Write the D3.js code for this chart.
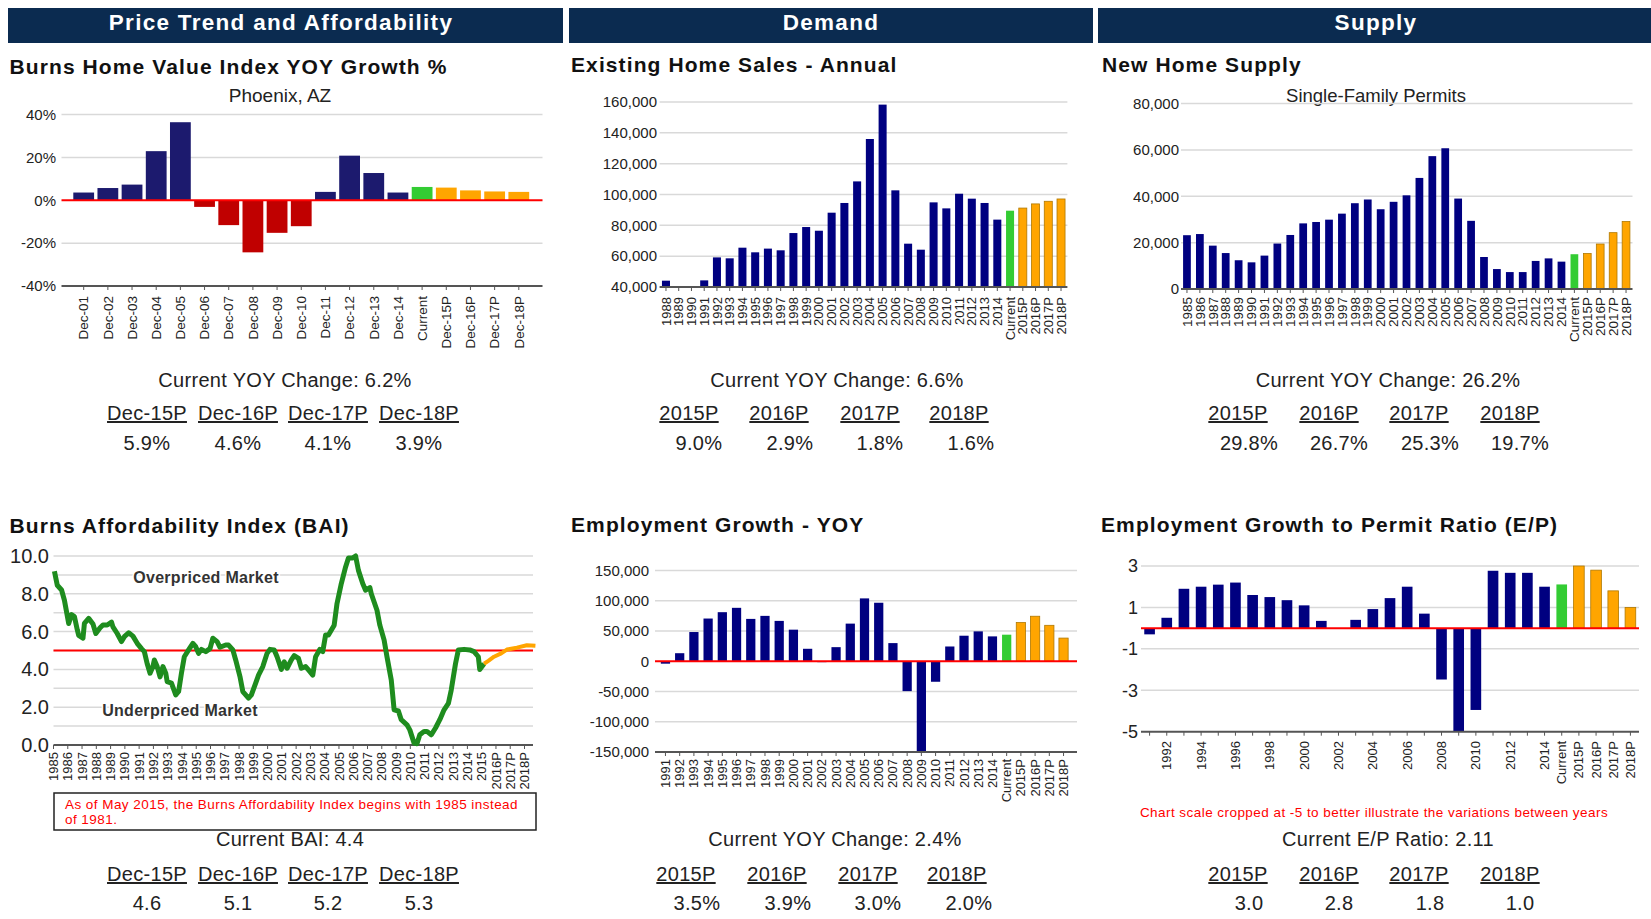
<!DOCTYPE html>
<html>
<head>
<meta charset="utf-8">
<script src="https://cdn.jsdelivr.net/npm/d3@7"></script>
<style>
  body { margin: 0; background: #fff; }
  svg { font-family: Arial, "Liberation Sans", sans-serif; }
</style>
</head>
<body>
<div id="wrapper"></div>
<script>
// ---- data ----
const headers = ["Price Trend and Affordability", "Demand", "Supply"]

const hviLabels = ["Dec-01", "Dec-02", "Dec-03", "Dec-04", "Dec-05", "Dec-06", "Dec-07", "Dec-08", "Dec-09",
  "Dec-10", "Dec-11", "Dec-12", "Dec-13", "Dec-14", "Current", "Dec-15P", "Dec-16P", "Dec-17P", "Dec-18P"]
const hviValues = [3.6, 5.7, 7.3, 22.9, 36.4, -3.1, -11.6, -24.3, -15.2, -12.1, 3.9, 20.8, 12.7, 3.6, 6.2, 5.9, 4.6, 4.1, 3.9]

const salesLabels = ["1988", "1989", "1990", "1991", "1992", "1993", "1994", "1995", "1996", "1997", "1998", "1999",
  "2000", "2001", "2002", "2003", "2004", "2005", "2006", "2007", "2008", "2009", "2010", "2011", "2012", "2013",
  "2014", "Current", "2015P", "2016P", "2017P", "2018P"]
const salesValues = [44100, 40400, 40400, 44300, 59200, 58600, 65500, 62500, 64900, 63800, 75000, 78900,
  76500, 88200, 94500, 108500, 136000, 158300, 102700, 68100, 64200, 94900, 91000, 100500, 97300, 94500,
  83700, 89500, 91200, 93900, 95600, 97100]

const permitLabels = ["1985", "1986", "1987", "1988", "1989", "1990", "1991", "1992", "1993", "1994", "1995",
  "1996", "1997", "1998", "1999", "2000", "2001", "2002", "2003", "2004", "2005", "2006", "2007", "2008", "2009",
  "2010", "2011", "2012", "2013", "2014", "Current", "2015P", "2016P", "2017P", "2018P"]
const permitValues = [23200, 23700, 18700, 15500, 12400, 11500, 14400, 19600, 23300, 28300, 28900,
  29900, 32500, 37000, 38600, 34400, 37600, 40400, 47900, 57300, 60700, 39000, 29400, 13800, 8600,
  7300, 7300, 12100, 13200, 11800, 15000, 15300, 19400, 24300, 29100]

const baiTickLabels = ["1985", "1986", "1987", "1988", "1989", "1990", "1991", "1992", "1993", "1994", "1995",
  "1996", "1997", "1998", "1999", "2000", "2001", "2002", "2003", "2004", "2005", "2006", "2007", "2008", "2009",
  "2010", "2011", "2012", "2013", "2014", "2015", "2016P", "2017P", "2018P"]
const baiDates = [1985.1, 1985.3, 1985.6, 1985.8, 1986.1, 1986.3, 1986.5, 1986.7, 1986.8, 1987.1, 1987.2, 1987.5,
  1987.8, 1988.0, 1988.3, 1988.5, 1988.8, 1989.1, 1989.2, 1989.5, 1989.8, 1990.0, 1990.3, 1990.6, 1990.9, 1991.2,
  1991.4, 1991.6, 1991.8, 1992.0, 1992.1, 1992.3, 1992.5, 1992.7, 1992.9, 1993.0, 1993.3, 1993.6, 1993.8, 1994.0,
  1994.2, 1994.5, 1994.8, 1995.0, 1995.2, 1995.4, 1995.7, 1996.0, 1996.2, 1996.5, 1996.7, 1997.1, 1997.3, 1997.6,
  1997.8, 1998.1, 1998.3, 1998.7, 1998.9, 1999.2, 1999.4, 1999.7, 2000.0, 2000.2, 2000.5, 2000.7, 2001.0, 2001.2,
  2001.4, 2001.7, 2001.9, 2002.2, 2002.4, 2002.7, 2002.9, 2003.2, 2003.4, 2003.7, 2003.9, 2004.1, 2004.3, 2004.7,
  2004.9, 2005.2, 2005.5, 2005.7, 2006.0, 2006.2, 2006.4, 2006.7, 2006.9, 2007.2, 2007.3, 2007.7, 2007.9, 2008.2,
  2008.4, 2008.7, 2008.9, 2009.2, 2009.4, 2009.8, 2010.0, 2010.3, 2010.5, 2010.7, 2011.0, 2011.2, 2011.5, 2011.8,
  2012.1, 2012.4, 2012.7, 2012.9, 2013.2, 2013.4, 2013.8, 2014.2, 2014.5, 2014.8, 2014.9, 2015.2]
const baiValues = [9.19, 8.45, 8.2, 7.66, 6.43, 6.9, 6.8, 6.1, 5.8, 5.65, 6.43, 6.7,
  6.4, 5.9, 6.2, 6.35, 6.35, 6.5, 6.25, 5.9, 5.47, 5.73, 5.94, 5.76, 5.38, 5.1,
  4.94, 4.3, 3.8, 4.15, 4.5, 4.15, 3.6, 4.15, 3.8, 3.35, 3.27, 2.65, 2.83, 3.8,
  4.67, 5.03, 5.38, 5.2, 4.85, 5.06, 4.94, 5.1, 5.65, 5.47, 5.17, 5.29, 5.29, 5.03,
  4.5, 3.62, 2.83, 2.48, 2.65, 3.27, 3.7, 4.15, 4.85, 5.06, 5.03, 4.67, 4.0, 4.4,
  4.06, 4.5, 4.73, 4.58, 4.06, 4.15, 3.97, 3.7, 4.67, 5.06, 4.94, 5.82, 5.82, 6.34,
  7.49, 8.54, 9.42, 9.9, 9.9, 10.0, 9.24, 8.54, 8.19, 8.33, 8.0, 7.13, 6.34, 5.55,
  4.67, 3.44, 1.86, 1.8, 1.34, 1.07, 0.8, 0.1, 0.07, 0.54, 0.72, 0.72, 0.54, 0.9,
  1.34, 1.86, 2.2, 2.9, 4.3, 5.03, 5.06, 5.03, 4.94, 4.67, 4.0, 4.3]
const baiProjDates = [2015.2, 2015.5, 2015.9, 2016.4, 2016.8, 2017.5, 2018.2, 2018.8]
const baiProjValues = [4.3, 4.45, 4.67, 4.85, 5.05, 5.15, 5.28, 5.25]

const empLabels = ["1991", "1992", "1993", "1994", "1995", "1996", "1997", "1998", "1999", "2000", "2001",
  "2002", "2003", "2004", "2005", "2006", "2007", "2008", "2009", "2010", "2011", "2012", "2013", "2014",
  "Current", "2015P", "2016P", "2017P", "2018P"]
const empValues = [-4000, 13300, 48300, 70600, 81100, 88300, 70000, 75000, 66700, 52200, 20600,
  -1500, 23300, 62200, 103900, 96700, 30000, -49400, -150000, -33900, 24400, 42200, 49400, 41100,
  43900, 63900, 74400, 59400, 38300]

const epLabels = empLabels
const epValues = [-0.3, 0.5, 1.9, 2.0, 2.1, 2.2, 1.6, 1.5, 1.35, 1.1, 0.35,
  0, 0.4, 0.92, 1.45, 2.0, 0.7, -2.48, -5.0, -3.95, 2.77, 2.67, 2.67, 2.0,
  2.11, 3.0, 2.8, 1.8, 1.0]

const decHeads = ["Dec-15P", "Dec-16P", "Dec-17P", "Dec-18P"]
const yearHeads = ["2015P", "2016P", "2017P", "2018P"]
const hviStatValues = ["5.9%", "4.6%", "4.1%", "3.9%"]
const salesStatValues = ["9.0%", "2.9%", "1.8%", "1.6%"]
const permitStatValues = ["29.8%", "26.7%", "25.3%", "19.7%"]
const baiStatValues = ["4.6", "5.1", "5.2", "5.3"]
const empStatValues = ["3.5%", "3.9%", "3.0%", "2.0%"]
const epStatValues = ["3.0", "2.8", "1.8", "1.0"]

// ---- setup ----
const navy = "#000080"
const colors = {
  grid: "#d9d9d9",
  axis: "#555",
  zero: "#ff0000",
  green: "#33cc33",
  orange: "#ffa500",
  red: "#c00000"
}

// plain hyphen for negatives, like the original
const commaFormat = d => d3.format(",")(d).replace("\u2212", "-")
const intFormat = d => String(d)

const svg = d3.select("#wrapper")
  .append("svg")
    .attr("width", 1651)
    .attr("height", 919)

svg.append("rect").attr("width", 1651).attr("height", 919).attr("fill", "#fff")

// header bars
const headerX = [[8, 563], [569, 1093], [1098, 1651]]
const headerCx = [281, 831, 1376]
headers.forEach((h, i) => {
  svg.append("rect")
    .attr("x", headerX[i][0]).attr("y", 8)
    .attr("width", headerX[i][1] - headerX[i][0]).attr("height", 35)
    .attr("fill", "#0b2b50")
  svg.append("text")
    .attr("x", headerCx[i]).attr("y", 22).attr("dy", "0.35em")
    .attr("text-anchor", "middle")
    .attr("fill", "#fff")
    .style("font-size", "22.5px").style("font-weight", "bold").style("letter-spacing", "1.3px")
    .text(h)
})

function title(x, y, t) {
  svg.append("text")
    .attr("x", x).attr("y", y).attr("dy", "0.35em")
    .attr("fill", "#111")
    .style("font-size", "21px").style("font-weight", "bold").style("letter-spacing", "1.1px")
    .text(t)
}

function colorFor(labels) {
  const cur = labels.indexOf("Current")
  return (d, i) => i === cur ? colors.green : i > cur ? colors.orange : navy
}

function barChart(o) {
  const g = svg.append("g")
  const x = d3.scaleBand()
    .domain(o.labels)
    .range(o.xRange)
    .paddingInner(o.pad)
    .paddingOuter(o.outer)
  const y = d3.scaleLinear().domain(o.yDomain).range(o.yRange)
  const base = o.base

  g.selectAll(".grid")
    .data(o.grid)
    .join("line")
      .attr("x1", o.plotX[0]).attr("x2", o.plotX[1])
      .attr("y1", d => y(d)).attr("y2", d => y(d))
      .attr("stroke", colors.grid).attr("stroke-width", 1.5)

  g.selectAll(".bar")
    .data(o.values)
    .join("rect")
      .attr("x", (d, i) => x(o.labels[i]))
      .attr("width", x.bandwidth())
      .attr("y", d => y(Math.max(d, base)))
      .attr("height", d => Math.abs(y(d) - y(base)))
      .attr("fill", o.color)
      .attr("stroke", (d, i) => o.color(d, i) === colors.orange && o.outline ? "#b07800" : "none")
      .attr("stroke-width", 0.8)

  if (o.zero !== undefined) {
    g.append("line")
      .attr("x1", o.plotX[0]).attr("x2", o.plotX[1])
      .attr("y1", y(o.zero)).attr("y2", y(o.zero))
      .attr("stroke", colors.zero).attr("stroke-width", 2)
  }

  // x axis
  const axisY = y(o.yDomain[0])
  g.append("line")
    .attr("x1", o.plotX[0]).attr("x2", o.plotX[1])
    .attr("y1", axisY).attr("y2", axisY)
    .attr("stroke", colors.axis).attr("stroke-width", 2)

  const xAxis = g.append("g")
    .attr("transform", `translate(0,${axisY})`)
    .call(d3.axisBottom(x).tickSize(4).tickSizeOuter(0)
      .tickFormat(d => o.showLabel ? (o.showLabel(d) ? d : "") : d))
  xAxis.select(".domain").remove()
  xAxis.selectAll("line").attr("stroke", colors.axis)
  xAxis.selectAll("text")
    .attr("transform", "rotate(-90)")
    .attr("text-anchor", "end")
    .attr("x", -(o.labelTop - axisY))
    .attr("y", 0)
    .attr("dy", "0.35em")
    .attr("fill", "#222")
    .style("font-size", o.labelSize + "px")
    .style("font-family", "Arial, 'Liberation Sans', sans-serif")

  // y labels
  const yAxis = g.append("g")
    .attr("transform", `translate(${o.yLabelX},0)`)
    .call(d3.axisLeft(y).tickValues(o.ticks).tickSize(0).tickPadding(0).tickFormat(o.fmt))
  yAxis.select(".domain").remove()
  yAxis.selectAll("text")
    .attr("fill", "#222")
    .style("font-size", o.yLabelSize + "px")
    .style("font-family", "Arial, 'Liberation Sans', sans-serif")
}

function stats(o) {
  const statText = (x, y, t) => svg.append("text")
    .attr("x", x).attr("y", y).attr("dy", "0.35em")
    .attr("text-anchor", "middle").attr("fill", "#222")
    .style("font-size", "20px").style("letter-spacing", "0.3px")
    .text(t)
  statText(o.cx, o.y0, o.current)
  o.heads.forEach((h, i) => {
    statText(o.headX[i], o.y1, h).style("text-decoration", "underline")
  })
  o.values.forEach((v, i) => {
    statText(o.valX[i], o.y2, v)
  })
}

// ---- chart 1: home value index ----
title(9.5, 66.5, "Burns Home Value Index YOY Growth %")
svg.append("text")
  .attr("x", 280).attr("y", 95).attr("dy", "0.35em")
  .attr("text-anchor", "middle").attr("fill", "#222")
  .style("font-size", "19px")
  .text("Phoenix, AZ")

const hviCur = hviLabels.indexOf("Current")
barChart({
  labels: hviLabels, values: hviValues,
  xRange: [60, 542.5], plotX: [61.5, 542.5], pad: 0.14, outer: 0.55,
  yDomain: [-40, 40], yRange: [286, 114.5], base: 0,
  grid: [40, 20, -20], zero: 0, ticks: [40, 20, 0, -20, -40],
  fmt: d => d + "%", yLabelX: 56, yLabelSize: 15,
  color: (d, i) => i === hviCur ? colors.green : i > hviCur ? colors.orange : d < 0 ? colors.red : "#1c1a6e",
  labelTop: 296, labelSize: 13.5
})

stats({
  cx: 285, y0: 380, y1: 413, y2: 443,
  current: "Current YOY Change: 6.2%",
  heads: decHeads, headX: [147, 238, 328, 419],
  values: hviStatValues, valX: [147, 238, 328, 419]
})

// ---- chart 2: existing home sales ----
title(571, 65, "Existing Home Sales - Annual")
barChart({
  labels: salesLabels, values: salesValues,
  xRange: [659.6, 1067.4], plotX: [659.6, 1067.4], pad: 0.37, outer: 0.185,
  yDomain: [40000, 160000], yRange: [287, 102], base: 40000,
  grid: [160000, 140000, 120000, 100000, 80000, 60000],
  ticks: [160000, 140000, 120000, 100000, 80000, 60000, 40000],
  fmt: commaFormat, yLabelX: 657, yLabelSize: 15,
  color: colorFor(salesLabels), outline: true,
  labelTop: 297, labelSize: 13
})

stats({
  cx: 837, y0: 380, y1: 413, y2: 443,
  current: "Current YOY Change: 6.6%",
  heads: yearHeads, headX: [689, 779, 870, 959],
  values: salesStatValues, valX: [699, 790, 880, 971]
})

// ---- chart 3: new home supply ----
title(1102, 65, "New Home Supply")
svg.append("text")
  .attr("x", 1376).attr("y", 96).attr("dy", "0.35em")
  .attr("text-anchor", "middle").attr("fill", "#222")
  .style("font-size", "18.5px")
  .text("Single-Family Permits")

barChart({
  labels: permitLabels, values: permitValues,
  xRange: [1180.5, 1632.5], plotX: [1181, 1632.5], pad: 0.4, outer: 0.2,
  yDomain: [0, 80000], yRange: [289, 103.5], base: 0,
  grid: [80000, 60000, 40000, 20000],
  ticks: [80000, 60000, 40000, 20000, 0],
  fmt: commaFormat, yLabelX: 1179, yLabelSize: 15,
  color: colorFor(permitLabels), outline: true,
  labelTop: 297, labelSize: 13.5
})

stats({
  cx: 1388, y0: 380, y1: 413, y2: 443,
  current: "Current YOY Change: 26.2%",
  heads: yearHeads, headX: [1238, 1329, 1419, 1510],
  values: permitStatValues, valX: [1249, 1339, 1430, 1520]
})

// ---- chart 4: affordability index ----
title(9.5, 525.5, "Burns Affordability Index (BAI)")
{
  const g = svg.append("g")
  const x = d3.scaleLinear().domain([1985, 2018]).range([53, 524])
  const y = d3.scaleLinear().domain([0, 10]).range([745, 556])

  g.selectAll(".grid")
    .data(d3.range(1, 11))
    .join("line")
      .attr("x1", 53.5).attr("x2", 533)
      .attr("y1", d => y(d)).attr("y2", d => y(d))
      .attr("stroke", colors.grid).attr("stroke-width", 1.5)

  g.append("line")
    .attr("x1", 53.5).attr("x2", 533)
    .attr("y1", y(5)).attr("y2", y(5))
    .attr("stroke", colors.zero).attr("stroke-width", 2)

  g.append("line")
    .attr("x1", 53.5).attr("x2", 533)
    .attr("y1", y(0)).attr("y2", y(0))
    .attr("stroke", colors.axis).attr("stroke-width", 2)

  const xAxis = g.append("g")
    .attr("transform", `translate(0,${y(0)})`)
    .call(d3.axisBottom(x).tickValues(d3.range(1985, 2019)).tickSize(4).tickSizeOuter(0)
      .tickFormat((d, i) => baiTickLabels[i]))
  xAxis.select(".domain").remove()
  xAxis.selectAll("line").attr("stroke", colors.axis)
  xAxis.selectAll("text")
    .attr("transform", "rotate(-90)")
    .attr("text-anchor", "end")
    .attr("x", -7).attr("y", 0).attr("dy", "0.35em")
    .attr("fill", "#222")
    .style("font-size", "13px")

  const yAxis = g.append("g")
    .attr("transform", "translate(49,0)")
    .call(d3.axisLeft(y).tickValues([0, 2, 4, 6, 8, 10]).tickSize(0).tickPadding(0).tickFormat(d3.format(".1f")))
  yAxis.select(".domain").remove()
  yAxis.selectAll("text").attr("fill", "#222").style("font-size", "20px")

  const line = d3.line().x(d => x(d[0])).y(d => y(d[1]))
  g.append("path")
    .datum(baiDates.map((d, i) => [d, baiValues[i]]))
    .attr("d", line)
    .attr("fill", "none").attr("stroke", "#1e8c1e")
    .attr("stroke-width", 5).attr("stroke-linejoin", "round")
  g.append("path")
    .datum(baiProjDates.map((d, i) => [d, baiProjValues[i]]))
    .attr("d", line)
    .attr("fill", "none").attr("stroke", colors.orange)
    .attr("stroke-width", 4).attr("stroke-linejoin", "round")

  const marketText = [["Overpriced Market", 206, 577], ["Underpriced Market", 180, 710]]
  marketText.forEach(m => {
    g.append("text")
      .attr("x", m[1]).attr("y", m[2]).attr("dy", "0.35em")
      .attr("text-anchor", "middle")
      .attr("fill", "#333")
      .attr("stroke", "#fff").attr("stroke-width", 3).attr("paint-order", "stroke")
      .style("font-size", "16px").style("font-weight", "bold").style("letter-spacing", "0.3px")
      .text(m[0])
  })

  g.append("rect")
    .attr("x", 54).attr("y", 793).attr("width", 482).attr("height", 37)
    .attr("fill", "#fff").attr("stroke", "#222").attr("stroke-width", 1.5)
  const note = ["As of May 2015, the Burns Affordability Index begins with 1985 instead", "of 1981."]
  note.forEach((t, i) => {
    g.append("text")
      .attr("x", 65).attr("y", 804 + i * 15).attr("dy", "0.35em")
      .attr("fill", "#ff0000")
      .style("font-size", "13.5px").style("letter-spacing", "0.45px")
      .text(t)
  })
}

stats({
  cx: 290, y0: 839, y1: 874, y2: 903,
  current: "Current BAI: 4.4",
  heads: decHeads, headX: [147, 238, 328, 419],
  values: baiStatValues, valX: [147, 238, 328, 419]
})

// ---- chart 5: employment growth ----
title(571, 524.5, "Employment Growth - YOY")
barChart({
  labels: empLabels, values: empValues,
  xRange: [658, 1071], plotX: [655, 1077], pad: 0.35, outer: 0.2,
  yDomain: [-150000, 150000], yRange: [752, 570.5], base: 0,
  grid: [150000, 100000, 50000, -50000, -100000], zero: 0,
  ticks: [150000, 100000, 50000, 0, -50000, -100000, -150000],
  fmt: commaFormat, yLabelX: 649, yLabelSize: 15,
  color: colorFor(empLabels), outline: true,
  labelTop: 759, labelSize: 13
})

stats({
  cx: 835, y0: 839, y1: 874, y2: 903,
  current: "Current YOY Change: 2.4%",
  heads: yearHeads, headX: [686, 777, 868, 957],
  values: empStatValues, valX: [697, 788, 878, 969]
})

// ---- chart 6: employment to permit ratio ----
title(1101, 524.5, "Employment Growth to Permit Ratio (E/P)")
barChart({
  labels: epLabels, values: epValues,
  xRange: [1141, 1639], plotX: [1141, 1639], pad: 0.38, outer: 0.19,
  yDomain: [-5, 3], yRange: [731.7, 566], base: 0,
  grid: [3, 1, -1, -3], zero: 0,
  ticks: [3, 1, -1, -3, -5],
  fmt: intFormat, yLabelX: 1138, yLabelSize: 18,
  color: colorFor(epLabels), outline: true,
  showLabel: d => !/^\d{4}$/.test(d) || +d % 2 === 0,
  labelTop: 741, labelSize: 13
})

svg.append("text")
  .attr("x", 1374).attr("y", 812).attr("dy", "0.35em")
  .attr("text-anchor", "middle").attr("fill", "#ff0000")
  .style("font-size", "13.5px").style("letter-spacing", "0.45px")
  .text("Chart scale cropped at -5 to better illustrate the variations between years")

stats({
  cx: 1388, y0: 839, y1: 874, y2: 903,
  current: "Current E/P Ratio: 2.11",
  heads: yearHeads, headX: [1238, 1329, 1419, 1510],
  values: epStatValues, valX: [1249, 1339, 1430, 1520]
})
</script>
</body>
</html>
